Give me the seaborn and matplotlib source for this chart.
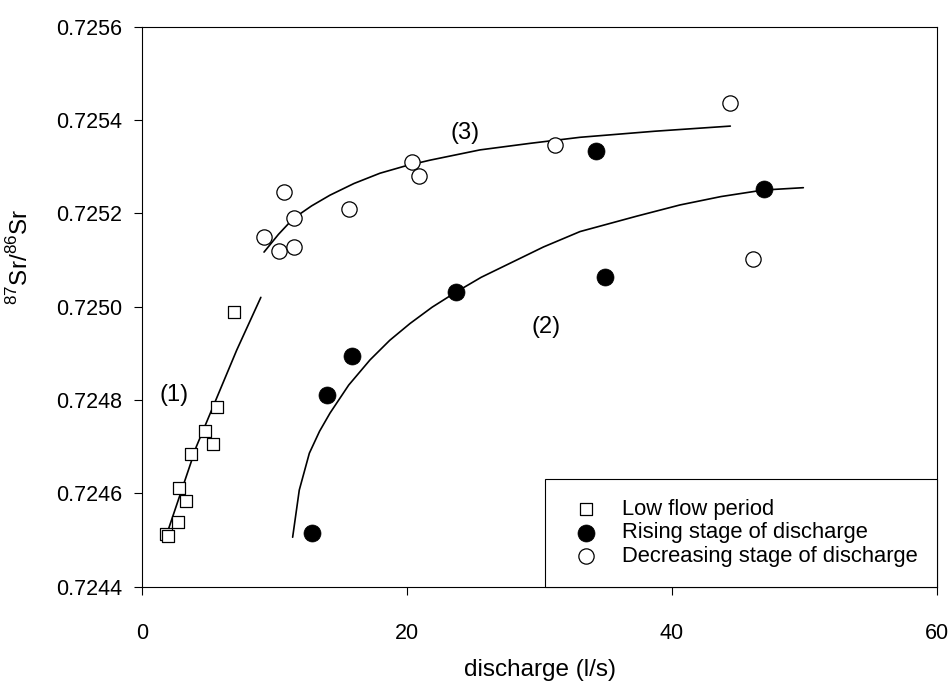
import matplotlib
matplotlib.use("Agg")
import matplotlib.pyplot as plt
import seaborn as sns

sns.set_theme(style="ticks")
plt.rcParams['font.family'] = ['Liberation Sans', 'DejaVu Sans']
plt.rcParams['text.color'] = 'black'
plt.rcParams['axes.labelcolor'] = 'black'

# low flow period (squares)
low_x = [1.85, 1.95, 2.69, 2.82, 3.32, 3.70, 4.78, 5.33, 5.63, 6.97]
low_y = [0.724512, 0.724508, 0.724539, 0.724612, 0.724584, 0.724685,
         0.724734, 0.724706, 0.724785, 0.724989]

# rising stage (filled circles)
rise_x = [12.81, 13.99, 15.82, 23.72, 34.24, 34.94, 46.97]
rise_y = [0.724515, 0.724810, 0.724894, 0.725032, 0.725334, 0.725063, 0.725253]

# decreasing stage (open circles)
dec_x = [9.21, 10.32, 10.74, 11.45, 11.45, 15.62, 20.35, 20.87, 31.15, 44.4, 46.11]
dec_y = [0.725150, 0.725119, 0.725246, 0.725190, 0.725128, 0.725210,
         0.725309, 0.725281, 0.725346, 0.725437, 0.725102]

# fitted curves
c1_x = [1.9, 4.1, 7.15, 8.97]
c1_y = [0.724515, 0.724700, 0.724907, 0.725020]
c2_x = [11.37, 11.87, 12.63, 13.4, 14.19, 15.6, 17.21, 18.7, 20.23, 21.9,
        23.74, 25.6, 27.77, 30.3, 33.06, 37.34, 40.6, 43.7, 46.9, 49.91]
c2_y = [0.724506, 0.724607, 0.724686, 0.724733, 0.724772, 0.724832, 0.724886,
        0.724928, 0.724964, 0.724999, 0.725032, 0.725063, 0.725093, 0.725128,
        0.725161, 0.725194, 0.725218, 0.725236, 0.725250, 0.725255]
c3_x = [9.21, 10.3, 11.42, 12.8, 14.19, 16.0, 17.96, 19.8, 21.74, 25.51,
        29.28, 33.06, 38.7, 44.4]
c3_y = [0.725117, 0.725155, 0.725189, 0.725216, 0.725239, 0.725264, 0.725286,
        0.725301, 0.725314, 0.725336, 0.725350, 0.725363, 0.725376, 0.725387]

x_ticks = [0, 20, 40, 60]
y_ticks = [0.7244, 0.7246, 0.7248, 0.7250, 0.7252, 0.7254, 0.7256]

fig = plt.figure(figsize=(9.51, 6.81), dpi=100)
ax = fig.add_axes([0.1493, 0.1385, 0.836, 0.8223])

for cx, cy in [(c1_x, c1_y), (c2_x, c2_y), (c3_x, c3_y)]:
    sns.lineplot(x=cx, y=cy, sort=False, estimator=None, color="black",
                 linewidth=1.2, ax=ax, label="_nolegend_", legend=False)

sns.scatterplot(x=low_x, y=low_y, marker="s", s=64, facecolor="white",
                edgecolor="black", linewidth=0.9, ax=ax, label="Low flow period", zorder=3)
sns.scatterplot(x=rise_x, y=rise_y, marker="o", s=150, color="black",
                edgecolor="black", linewidth=0.5, ax=ax, label="Rising stage of discharge", zorder=3)
sns.scatterplot(x=dec_x, y=dec_y, marker="o", s=121, facecolor="white",
                edgecolor="black", linewidth=0.9, ax=ax, label="Decreasing stage of discharge", zorder=3)

ax.set_xlim(0, 60)
ax.set_ylim(0.7244, 0.7256)
ax.set_xticks(x_ticks)
ax.set_yticks(y_ticks)
ax.set_yticklabels([f"{v:.4f}" for v in y_ticks])
ax.tick_params(axis="both", direction="out", length=6, width=0.8, colors="black",
               labelsize=15.5)
ax.tick_params(axis="y", pad=8.5)
ax.tick_params(axis="x", pad=20)
for sp in ax.spines.values():
    sp.set_visible(True)
    sp.set_color("black")
    sp.set_linewidth(0.8)

ax.set_xlabel("discharge (l/s)", fontsize=17.5)
ax.set_ylabel("$^{\\mathregular{87}}$Sr/$^{\\mathregular{86}}$Sr", fontsize=17.5)
ax.xaxis.set_label_coords(0.5, -0.13)
ax.yaxis.set_label_coords(-0.137, 0.589)

ax.text(2.4, 0.72481, "(1)", fontsize=17, ha="center", va="center")
ax.text(30.5, 0.724957, "(2)", fontsize=17, ha="center", va="center")
ax.text(24.4, 0.725372, "(3)", fontsize=17, ha="center", va="center")

leg = ax.legend(loc="lower right", bbox_to_anchor=(1, 0), borderaxespad=0,
                fontsize=15.8, frameon=True, fancybox=False, framealpha=1,
                edgecolor="black", borderpad=0.9, labelspacing=0.12,
                handletextpad=0.64, handlelength=1.94)
leg.get_frame().set_linewidth(0.8)

fig.savefig("out.png", dpi=100)
